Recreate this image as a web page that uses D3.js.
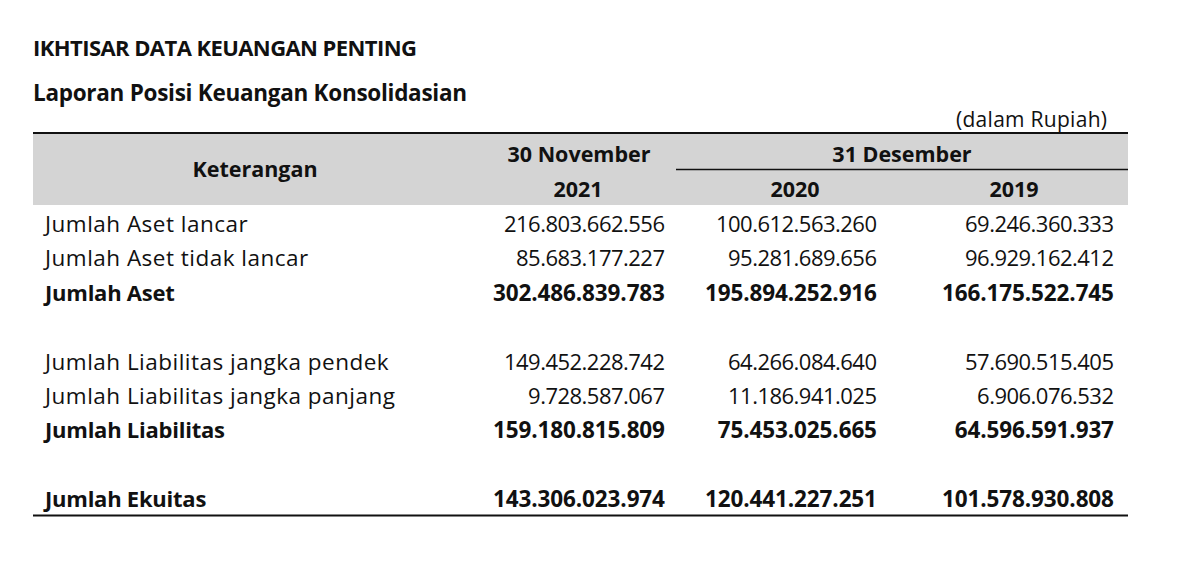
<!DOCTYPE html>
<html>
<head>
<meta charset="utf-8">
<script src="https://cdn.jsdelivr.net/npm/d3@7"></script>
<style>
  html, body { margin: 0; padding: 0; background: #fff; }
  svg { display: block; }
  text { font-family: "Open Sans", "Noto Sans", sans-serif; fill: #111; }
</style>
</head>
<body>
<svg id="chart" width="1200" height="561"></svg>
<script>
const title = "IKHTISAR DATA KEUANGAN PENTING";
const subtitle = "Laporan Posisi Keuangan Konsolidasian";
const unitNote = "(dalam Rupiah)";
const headerLabel = "Keterangan";
const periodGroups = ["30 November", "31 Desember"];
const years = ["2021", "2020", "2019"];

const rowLabels = [
  "Jumlah Aset lancar",
  "Jumlah Aset tidak lancar",
  "Jumlah Aset",
  "",
  "Jumlah Liabilitas jangka pendek",
  "Jumlah Liabilitas jangka panjang",
  "Jumlah Liabilitas",
  "",
  "Jumlah Ekuitas"
];
const rowBold = [false, false, true, false, false, false, true, false, true];
const values2021 = ["216.803.662.556", "85.683.177.227", "302.486.839.783", "", "149.452.228.742", "9.728.587.067", "159.180.815.809", "", "143.306.023.974"];
const values2020 = ["100.612.563.260", "95.281.689.656", "195.894.252.916", "", "64.266.084.640", "11.186.941.025", "75.453.025.665", "", "120.441.227.251"];
const values2019 = ["69.246.360.333", "96.929.162.412", "166.175.522.745", "", "57.690.515.405", "6.906.076.532", "64.596.591.937", "", "101.578.930.808"];

const svg = d3.select("#chart");
const left = 33, right = 1128;

// fit letter-spacing of a style group so that a reference string reaches a target width
function fitSpacing(selection, refText, target) {
  const probe = svg.append("text")
    .attr("font-size", selection.attr("font-size"))
    .attr("font-weight", selection.attr("font-weight"))
    .text(refText);
  const w = probe.node().getComputedTextLength();
  probe.remove();
  const ls = (target - w) / (refText.length - 1);
  selection.attr("letter-spacing", ls);
  if (selection.attr("text-anchor") === "end") {
    selection.attr("dx", ls);
  } else if (selection.attr("text-anchor") === "middle") {
    selection.attr("dx", ls / 2);
  }
  return ls;
}

// Titles
const t1 = svg.append("text").attr("x", left).attr("y", 56).attr("font-size", 22).attr("font-weight", 700).text(title);
fitSpacing(t1, title, 384);
const t2 = svg.append("text").attr("x", left).attr("y", 101).attr("font-size", 22.5).attr("font-weight", 700).text(subtitle);
fitSpacing(t2, subtitle, 434);
const t3 = svg.append("text").attr("x", 1107).attr("y", 127).attr("font-size", 21).attr("text-anchor", "end").text(unitNote);
fitSpacing(t3, unitNote, 151);

// Header background
svg.append("rect").attr("x", left).attr("y", 133).attr("width", right - left).attr("height", 72).attr("fill", "#d4d4d4");
svg.append("line").attr("x1", left).attr("x2", right).attr("y1", 133).attr("y2", 133).attr("stroke", "#111").attr("stroke-width", 2.2);
svg.append("line").attr("x1", 676).attr("x2", right).attr("y1", 169.5).attr("y2", 169.5).attr("stroke", "#111").attr("stroke-width", 1.6);

const headerCenters = [578, 795, 1014];
const hdr = svg.append("g");
hdr.append("text").attr("x", 255).attr("y", 177).text(headerLabel);
hdr.append("text").attr("x", 579).attr("y", 162).text(periodGroups[0]);
hdr.append("text").attr("x", 902).attr("y", 162).text(periodGroups[1]);
hdr.selectAll("text.year").data(years).join("text").attr("class", "year")
  .attr("x", (d, i) => headerCenters[i]).attr("y", 197).text(d => d);
const hdrTexts = hdr.selectAll("text")
  .attr("font-size", 21.5).attr("font-weight", 700).attr("text-anchor", "middle");
fitSpacing(hdrTexts, periodGroups[0], 143);

// Rows
const y = d3.scaleLinear().domain([0, 8]).range([232, 507]);
const colRight = [665, 877, 1114];
const series = [values2021, values2020, values2019];

const rowData = rowLabels.map((l, i) => ({ label: l, i })).filter(d => d.label !== "");
const rows = svg.selectAll("g.row").data(rowData)
  .join("g").attr("class", "row").attr("transform", d => `translate(0,${y(d.i)})`);

const labReg = rows.filter(d => !rowBold[d.i]).append("text").attr("x", 45).attr("font-size", 22.5).attr("font-weight", 400).text(d => d.label);
const labBold = rows.filter(d => rowBold[d.i]).append("text").attr("x", 45).attr("font-size", 22).attr("font-weight", 700).text(d => d.label);
fitSpacing(labReg, "Jumlah Liabilitas jangka panjang", 350);
fitSpacing(labBold, "Jumlah Liabilitas", 180);

series.forEach((vals, c) => {
  const vReg = rows.filter(d => !rowBold[d.i]).append("text").attr("x", colRight[c]).attr("text-anchor", "end")
    .attr("font-size", 22).attr("font-weight", 400).text(d => vals[d.i]);
  const vBold = rows.filter(d => rowBold[d.i]).append("text").attr("x", colRight[c]).attr("text-anchor", "end")
    .attr("font-size", 22.5).attr("font-weight", 700).text(d => vals[d.i]);
  fitSpacing(vReg, "216.803.662.556", 161);
  fitSpacing(vBold, "302.486.839.783", 172);
});

// Bottom rule
svg.append("line").attr("x1", left).attr("x2", right).attr("y1", 515.5).attr("y2", 515.5).attr("stroke", "#111").attr("stroke-width", 2.2);
</script>
</body>
</html>
